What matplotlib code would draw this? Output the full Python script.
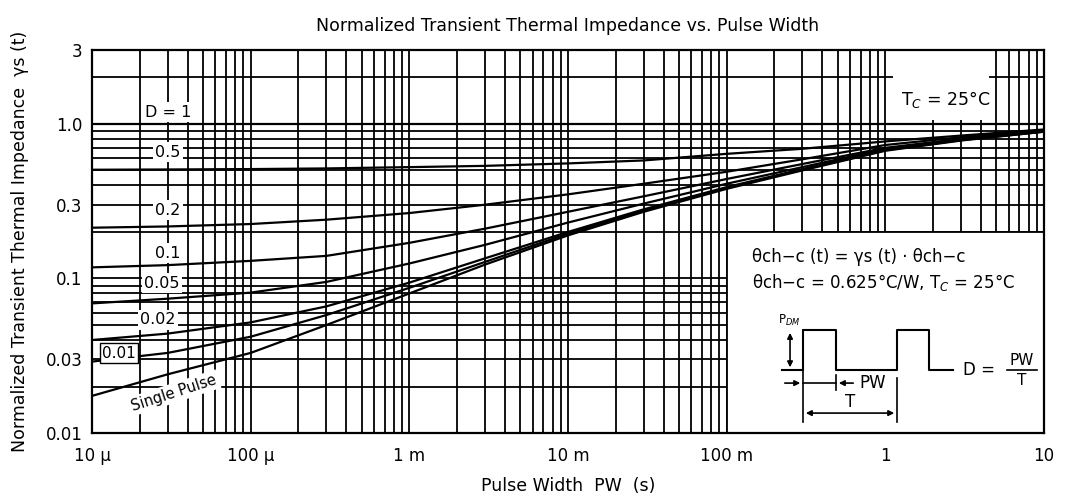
import matplotlib.pyplot as plt
from matplotlib.patches import Rectangle
from matplotlib.ticker import LogLocator, NullFormatter, FixedLocator, FixedFormatter

# pulse width (s) and normalized transient thermal impedance per duty ratio
t = [1e-5, 3e-5, 1e-4, 3e-4, 1e-3, 3e-3, 1e-2, 3e-2, 0.1, 0.3, 1, 3, 10]
single = [0.0174, 0.024, 0.033, 0.05, 0.08, 0.123, 0.19, 0.27, 0.38, 0.50, 0.67, 0.78, 0.89]
d001 = [0.029, 0.033, 0.042, 0.058, 0.087, 0.128, 0.195, 0.275, 0.385, 0.505, 0.675, 0.785, 0.89]
d002 = [0.040, 0.044, 0.052, 0.066, 0.094, 0.135, 0.20, 0.28, 0.39, 0.51, 0.68, 0.79, 0.895]
d005 = [0.069, 0.074, 0.081, 0.095, 0.125, 0.165, 0.23, 0.305, 0.41, 0.525, 0.69, 0.795, 0.90]
d01 = [0.118, 0.122, 0.13, 0.14, 0.17, 0.21, 0.27, 0.34, 0.44, 0.55, 0.70, 0.80, 0.90]
d02 = [0.213, 0.217, 0.225, 0.24, 0.265, 0.30, 0.35, 0.41, 0.49, 0.59, 0.73, 0.82, 0.91]
d05 = [0.505, 0.507, 0.51, 0.515, 0.525, 0.535, 0.555, 0.58, 0.64, 0.69, 0.77, 0.84, 0.92]
d1 = [1.0] * 13

xticks = [1e-5, 1e-4, 1e-3, 1e-2, 1e-1, 1, 10]
xlabels = ["10 µ", "100 µ", "1 m", "10 m", "100 m", "1", "10"]
yticks = [0.01, 0.03, 0.1, 0.3, 1.0, 3]
ylabels = ["0.01", "0.03", "0.1", "0.3", "1.0", "3"]

plt.rcParams['font.family'] = ['DejaVu Sans']
fig = plt.figure(figsize=(10.76, 5.03), dpi=100)
ax = fig.add_axes([0.0855, 0.139, 0.8848, 0.7614])
ax.set_xscale('log')
ax.set_yscale('log')
ax.set_xlim(1e-5, 10)
ax.set_ylim(0.01, 3)

ax.xaxis.set_minor_locator(LogLocator(base=10, subs=range(2, 10)))
ax.yaxis.set_minor_locator(LogLocator(base=10, subs=range(2, 10)))
ax.xaxis.set_minor_formatter(NullFormatter())
ax.yaxis.set_minor_formatter(NullFormatter())
ax.xaxis.set_major_locator(FixedLocator(xticks))
ax.xaxis.set_major_formatter(FixedFormatter(xlabels))
ax.yaxis.set_major_locator(FixedLocator(yticks))
ax.yaxis.set_major_formatter(FixedFormatter(ylabels))
ax.tick_params(which='both', length=0, labelsize=12)
ax.tick_params(axis='x', pad=10)
ax.tick_params(axis='y', pad=7)
ax.grid(True, which='both', color='black', lw=1.3)
ax.set_axisbelow(True)
for s in ax.spines.values():
    s.set_linewidth(1.6)

# curves
for ys in [d1, d05, d02, d01, d005, d002, d001, single]:
    ax.plot(t, ys, color='black', lw=1.6, zorder=3)

# blank areas over the grid
ax.add_patch(Rectangle((0.1, 0.01), 9.9, 0.19, facecolor='white', edgecolor='black', lw=1.3, zorder=2))
ax.add_patch(Rectangle((1.12, 1.06), 3.4, 1.94, facecolor='white', edgecolor='none', zorder=2))

bb = dict(boxstyle='square,pad=0.15', fc='white', ec='none')
ax.text(3e-5, 1.19, "D = 1", ha='center', va='center', fontsize=11.5, bbox=bb, zorder=4)
ax.text(3e-5, 0.657, "0.5", ha='center', va='center', fontsize=11.5, bbox=bb, zorder=4)
ax.text(3e-5, 0.277, "0.2", ha='center', va='center', fontsize=11.5, bbox=bb, zorder=4)
ax.text(3e-5, 0.146, "0.1", ha='center', va='center', fontsize=11.5, bbox=bb, zorder=4)
ax.text(2.76e-5, 0.0934, "0.05", ha='center', va='center', fontsize=11.5, bbox=bb, zorder=4)
ax.text(2.6e-5, 0.0539, "0.02", ha='center', va='center', fontsize=11.5, bbox=bb, zorder=4)
ax.text(1.48e-5, 0.0329, "0.01", ha='center', va='center', fontsize=11,
        bbox=dict(boxstyle='square,pad=0.15', fc='white', ec='black', lw=1), zorder=4)
ax.text(3.3e-5, 0.0182, "Single Pulse", ha='center', va='center', fontsize=10.5,
        rotation=18, bbox=bb, zorder=4)
ax.text(2.4, 1.43, "T$_C$ = 25°C", ha='center', va='center', fontsize=12.5, zorder=4)

# inset: formula and pulse diagram (axes fraction)
def fx(px):
    return (px - 92) / 952

def fy(py):
    return (433 - py) / 383

tr = ax.transAxes
ax.text(fx(752), fy(257), "θch−c (t) = γs (t) · θch−c", transform=tr, fontsize=12,
        va='center', ha='left', zorder=4)
ax.text(fx(752), fy(282), "θch−c = 0.625°C/W, T$_C$ = 25°C", transform=tr, fontsize=12,
        va='center', ha='left', zorder=4)

wx = [fx(782), fx(803), fx(803), fx(836), fx(836), fx(897), fx(897), fx(929), fx(929), fx(953)]
wy = [fy(370), fy(370), fy(330), fy(330), fy(370), fy(370), fy(330), fy(330), fy(370), fy(370)]
ax.plot(wx, wy, color='black', lw=1.5, transform=tr, zorder=4)
ap = dict(arrowstyle='<|-|>', color='black', lw=1.2, mutation_scale=8)
ax.annotate("", xy=(fx(790), fy(330)), xytext=(fx(790), fy(370)), xycoords=tr, textcoords=tr, arrowprops=ap)
ax.text(fx(778), fy(320), "P$_{DM}$", transform=tr, fontsize=8.5, ha='left', va='center')
ax.plot([fx(803), fx(803)], [fy(330), fy(422)], color='black', lw=1.2, transform=tr)
ax.plot([fx(836), fx(836)], [fy(375), fy(390)], color='black', lw=1.2, transform=tr)
ax.plot([fx(897), fx(897)], [fy(378), fy(422)], color='black', lw=1.2, transform=tr)
ax.annotate("", xy=(fx(803), fy(383)), xytext=(fx(782), fy(383)), xycoords=tr, textcoords=tr,
            arrowprops=dict(arrowstyle='-|>', color='black', lw=1.2, mutation_scale=8))
ax.plot([fx(803), fx(836)], [fy(383), fy(383)], color='black', lw=1.2, transform=tr)
ax.annotate("", xy=(fx(836), fy(383)), xytext=(fx(856), fy(383)), xycoords=tr, textcoords=tr,
            arrowprops=dict(arrowstyle='-|>', color='black', lw=1.2, mutation_scale=8))
ax.text(fx(859), fy(383), "PW", transform=tr, fontsize=12, ha='left', va='center')
ax.annotate("", xy=(fx(803), fy(413)), xytext=(fx(897), fy(413)), xycoords=tr, textcoords=tr, arrowprops=ap)
ax.text(fx(850), fy(402), "T", transform=tr, fontsize=12, ha='center', va='center')
ax.text(fx(963), fy(370), "D = ", transform=tr, fontsize=12, ha='left', va='center')
ax.text(fx(1022), fy(360), "PW", transform=tr, fontsize=11, ha='center', va='center')
ax.plot([fx(1007), fx(1037)], [fy(370), fy(370)], color='black', lw=1.2, transform=tr)
ax.text(fx(1022), fy(380), "T", transform=tr, fontsize=11, ha='center', va='center')

ax.set_title("Normalized Transient Thermal Impedance vs. Pulse Width", fontsize=12.5, pad=14)
ax.set_xlabel("Pulse Width  PW  (s)", fontsize=12.5, labelpad=9)
ax.set_ylabel("Normalized Transient Thermal Impedance  γs (t)", fontsize=12.5, labelpad=12)

fig.savefig("out.png", dpi=100)
